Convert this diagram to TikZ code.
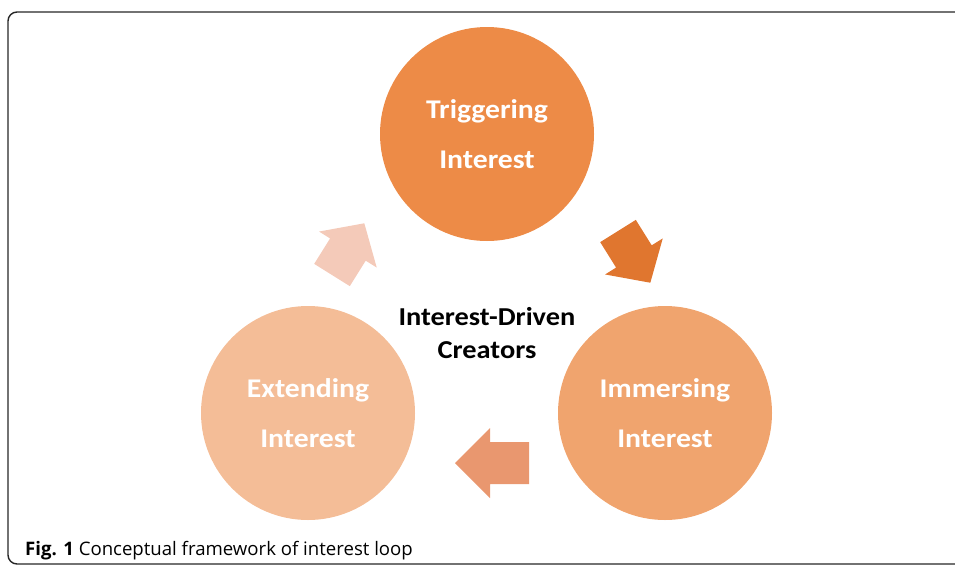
\documentclass[tikz,border=0pt]{standalone}
\usepackage{fontspec}
\setmainfont{Carlito}
\newfontfamily\labfont[FakeStretch=1.1]{Carlito}
\newfontfamily\capfont{Open Sans}
\definecolor{trigfill}{HTML}{ED8B47}
\definecolor{immfill}{HTML}{F0A46E}
\definecolor{extfill}{HTML}{F4BD97}
\definecolor{arrowA}{HTML}{E0762F}
\definecolor{arrowB}{HTML}{E9976F}
\definecolor{arrowC}{HTML}{F4CAB9}
\begin{document}
\begin{tikzpicture}[x=1pt,y=-1pt,
  stage/.style={circle, draw=none, minimum size=214pt, inner sep=0pt,
    text=white, align=center, font=\labfont\bfseries\fontsize{27}{50}\selectfont},
  hub/.style={align=center, text=black, font=\labfont\bfseries\fontsize{25.8}{33}\selectfont}]
\useasboundingbox (0,0) rectangle (955,565);
% outer frame
\draw[line width=1.4pt, rounded corners=9pt, color=black!85] (8,12) rectangle (990,564);

% the three stages of the loop
\node[stage, fill=trigfill] (trig) at (487,134) {Triggering\\Interest};
\node[stage, fill=immfill]  (imm)  at (665,413) {Immersing\\Interest};
\node[stage, fill=extfill]  (ext)  at (308,413) {Extending\\Interest};

% centre label
\node[hub] (hub) at (487,333) {Interest-Driven\\Creators};

% block arrows: tail at origin, pointing along local +x
\newcommand{\blockarrowshape}[4]{% shaft length, head length, shaft half width, head half width
  (0,-#3) -- (#1,-#3) -- (#1,-#4) -- (#1+#2,0) -- (#1,#4) -- (#1,#3) -- (0,#3) -- cycle}
\coordinate (tA) at (618,231);
\coordinate (tB) at (529,463);
\coordinate (tC) at (332,275);
\fill[arrowA, shift={(tA)}, rotate=-58] \blockarrowshape{30}{31}{21}{34};
\fill[arrowB, shift={(tB)}, rotate=180] \blockarrowshape{39}{35}{21}{35};
\fill[arrowC, shift={(tC)}, rotate=58] \blockarrowshape{30}{31}{21}{34};

% caption
\node[anchor=base west, inner sep=0pt, font=\capfont\fontsize{18.6}{22}\selectfont] (cap) at (25,555)
  {\textbf{Fig. 1} Conceptual framework of interest loop};
\end{tikzpicture}
\end{document}
